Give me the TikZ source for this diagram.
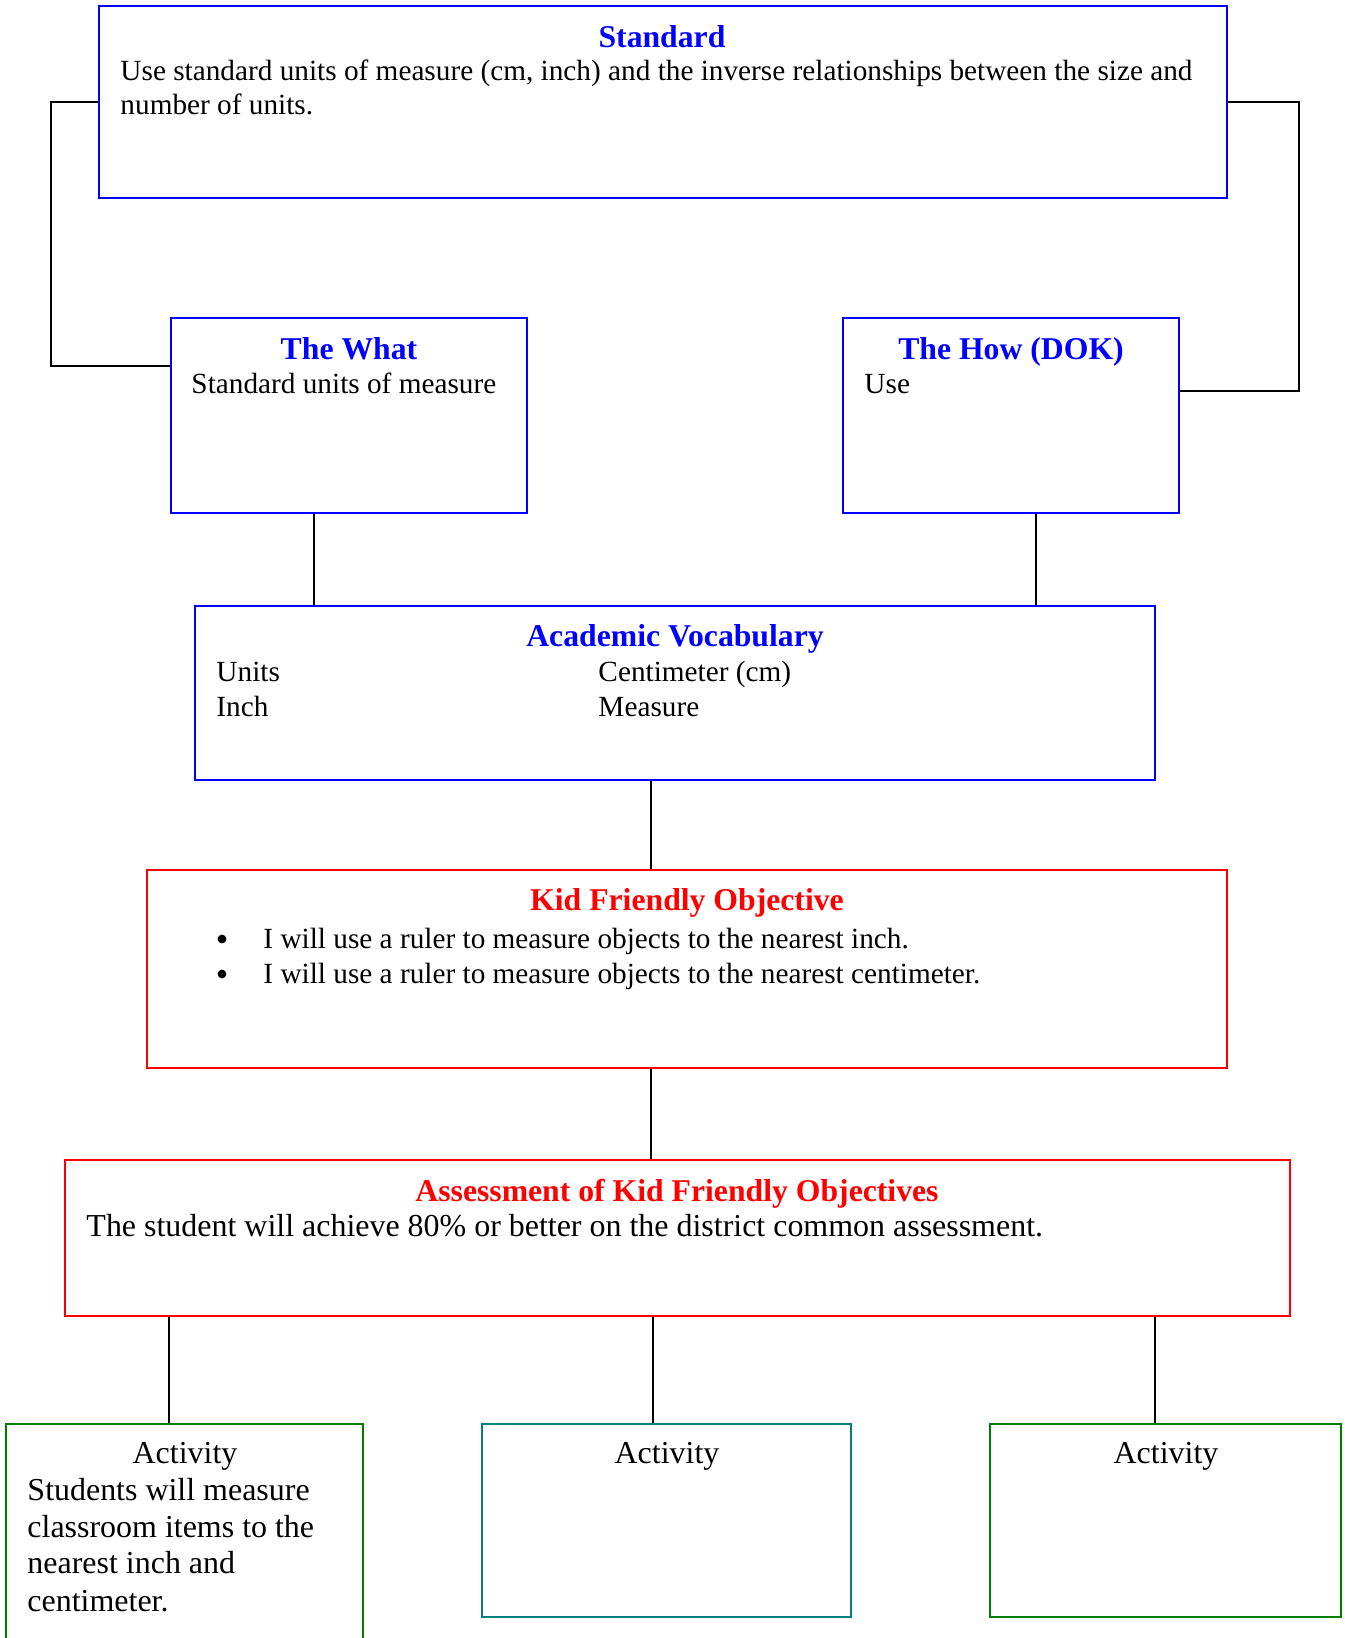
\documentclass[tikz,border=0pt]{standalone}
\usepackage{fontspec}
\setmainfont{Liberation Serif}
\usetikzlibrary{calc,positioning,fit}

\definecolor{wordblue}{RGB}{0,0,255}
\definecolor{wordred}{RGB}{255,0,0}
\definecolor{wordgreen}{RGB}{0,128,0}
\definecolor{wordteal}{RGB}{0,128,128}

\begin{document}
\begin{tikzpicture}[x=0.41pt, y=-0.41pt]
\tikzstyle{frame}=[draw, line width=0.7pt, inner sep=0pt]
\tikzstyle{head}=[font=\fontsize{13}{15}\selectfont\bfseries, anchor=base, inner sep=0pt]
\tikzstyle{body}=[font=\fontsize{12}{14}\selectfont, anchor=base west, inner sep=0pt]
\tikzstyle{bodybig}=[body, font=\fontsize{13.1}{15}\selectfont]
\tikzstyle{dot}=[circle, fill=black, inner sep=0pt, minimum size=3.6pt]
\tikzstyle{link}=[draw=black, line width=0.7pt]
\useasboundingbox (0,0) rectangle (1345,1638);

% boxes
\node[frame, draw=wordblue, fit={(99,6) (1227,198)}] (std) {};
\node[frame, draw=wordblue, fit={(171,318) (527,513)}] (what) {};
\node[frame, draw=wordblue, fit={(843,318) (1179,513)}] (how) {};
\node[frame, draw=wordblue, fit={(195,606) (1155,780)}] (voc) {};
\node[frame, draw=wordred, fit={(147,870) (1227,1068)}] (kfo) {};
\node[frame, draw=wordred, fit={(65,1160) (1290,1316)}] (assess) {};
\node[frame, draw=wordgreen, fit={(6,1424) (363,1660)}] (act1) {};
\node[frame, draw=wordteal, fit={(482,1424) (851,1617)}] (act2) {};
\node[frame, draw=wordgreen, fit={(990,1424) (1341,1617)}] (act3) {};

% texts
\node[head, text=wordblue] (stdT) at (662,47) {Standard};
\node[body] (stdA) at (120,80) {Use standard units of measure (cm, inch) and the inverse relationships between the size and};
\node[body] (stdB) at (120,114) {number of units.};

\node[head, text=wordblue] (whatT) at (349,359) {The What};
\node[body] (whatA) at (191,393) {Standard units of measure};
\node[head, text=wordblue] (howT) at (1011,359) {The How (DOK)};
\node[body] (howA) at (864,393) {Use};

\node[head, text=wordblue] (vocT) at (675,646) {Academic Vocabulary};
\node[body] (vocA) at (216,681) {Units};
\node[body] (vocB) at (216,716) {Inch};
\node[body] (vocC) at (598,681) {Centimeter (cm)};
\node[body] (vocD) at (598,716) {Measure};

\node[head, text=wordred] (kfoT) at (687,910) {Kid Friendly Objective};
\node[dot] (kfoP) at (222,939) {};
\node[body] (kfoA) at (263,948) {I will use a ruler to measure objects to the nearest inch.};
\node[dot] (kfoQ) at (222,974) {};
\node[body] (kfoB) at (263,983) {I will use a ruler to measure objects to the nearest centimeter.};

\node[head, text=wordred] (assT) at (677,1201) {Assessment of Kid Friendly Objectives};
\node[bodybig] (assA) at (86,1236) {The student will achieve 80\% or better on the district common assessment.};

\node[bodybig, anchor=base] (actT1) at (185,1463) {Activity};
\node[bodybig, anchor=base] (actT2) at (667,1463) {Activity};
\node[bodybig, anchor=base] (actT3) at (1166,1463) {Activity};
\node[bodybig] (actA) at (27,1500) {Students will measure};
\node[bodybig] (actB) at (27,1537) {classroom items to the};
\node[bodybig] (actC) at (27,1573) {nearest inch and};
\node[bodybig] (actD) at (27,1611) {centimeter.};

% connectors
\coordinate (lft) at (51,0);
\coordinate (rgt) at (1299,0);
\draw[link] (std.west) -- (std.west -| lft) |- ($(what.north west)!.25!(what.south west)$);
\draw[link] (std.east) -- (std.east -| rgt) |- ($(how.north east)!.375!(how.south east)$);

\coordinate (c1) at (314,0);
\coordinate (c2) at (1036,0);
\coordinate (c3) at (651,0);
\coordinate (c4) at (169,0);
\coordinate (c5) at (653,0);
\coordinate (c6) at (1155,0);
\draw[link] (what.south -| c1) -- (voc.north -| c1);
\draw[link] (how.south -| c2) -- (voc.north -| c2);
\draw[link] (voc.south -| c3) -- (kfo.north -| c3);
\draw[link] (kfo.south -| c3) -- (assess.north -| c3);
\draw[link] (assess.south -| c4) -- (act1.north -| c4);
\draw[link] (assess.south -| c5) -- (act2.north -| c5);
\draw[link] (assess.south -| c6) -- (act3.north -| c6);
\end{tikzpicture}
\end{document}
